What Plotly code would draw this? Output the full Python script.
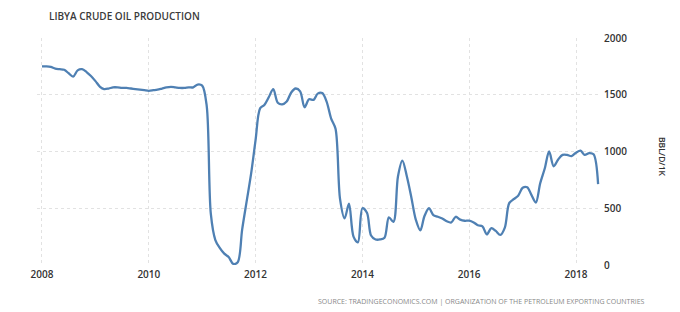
import plotly.graph_objects as go

# Monthly production, Jan 2008 .. Jun 2018 (BBL/D/1K)
values_2008 = [1750, 1750, 1745, 1730, 1725, 1720, 1690, 1660, 1715, 1725, 1700, 1665]
values_2009 = [1620, 1570, 1550, 1555, 1565, 1565, 1560, 1560, 1555, 1550, 1545, 1540]
values_2010 = [1535, 1540, 1545, 1555, 1565, 1570, 1565, 1560, 1560, 1565, 1565, 1590]
values_2011 = [1580, 1400, 450, 220, 150, 100, 70, 10, 25, 310, 560, 800]
values_2012 = [1100, 1380, 1410, 1480, 1550, 1430, 1415, 1440, 1520, 1555, 1530, 1390]
values_2013 = [1460, 1455, 1510, 1515, 1440, 1290, 1200, 580, 410, 540, 250, 200]
values_2014 = [500, 460, 260, 225, 225, 240, 420, 380, 780, 920, 780, 600]
values_2015 = [400, 305, 430, 500, 440, 425, 410, 385, 375, 425, 400, 390]
values_2016 = [390, 375, 350, 340, 270, 325, 300, 265, 330, 545, 580, 610]
values_2017 = [680, 685, 620, 550, 720, 850, 1000, 870, 930, 970, 970, 960]
values_2018 = [990, 1007, 970, 985, 975, 713]

values = (values_2008 + values_2009 + values_2010 + values_2011 + values_2012 + values_2013
          + values_2014 + values_2015 + values_2016 + values_2017 + values_2018)
dates = []
y, m = 2008, 1
for _ in values:
    dates.append(f"{y}-{m:02d}-01")
    m += 1
    if m > 12:
        m = 1
        y += 1

x_ticks = ["2008-01-01", "2010-01-01", "2012-01-01", "2014-01-01", "2016-01-01", "2018-01-01"]
x_tick_text = ["2008", "2010", "2012", "2014", "2016", "2018"]
y_ticks = [0, 500, 1000, 1500, 2000]

title_text = "LIBYA CRUDE OIL PRODUCTION"
unit_text = "BBL/D/1K"
source_text = "SOURCE: TRADINGECONOMICS.COM | ORGANIZATION OF THE PETROLEUM EXPORTING COUNTRIES"

L, R, T, B = 37, 80, 38, 47
W, H = 680, 312
pw, ph = W - L - R, H - T - B


def px(xp):
    return (xp - L) / pw


def py(yp):
    return (H - yp - B) / ph


fig = go.Figure()
fig.add_trace(go.Scatter(
    x=dates, y=values, mode="lines",
    line=dict(color="#4f80b3", width=2.3, shape="spline", smoothing=0.9),
    hoverinfo="skip", showlegend=False,
))

grid = "#e2e2e2"
fig.update_layout(
    width=W, height=H,
    margin=dict(l=L, r=R, t=T, b=B),
    paper_bgcolor="white", plot_bgcolor="white",
    font=dict(family="Open Sans", size=10, color="#333333"),
    xaxis=dict(
        type="date", range=["2007-11-28", "2018-06-14"],
        tickvals=x_ticks, ticktext=x_tick_text,
        showgrid=True, gridcolor=grid, griddash="dot", gridwidth=1,
        zeroline=False, showline=False, ticks="",
        ticklabelstandoff=2,
        tickfont=dict(family="Open Sans", size=10, color="#333333", weight=600),
    ),
    yaxis=dict(
        range=[0, 2000], tickvals=y_ticks, side="right",
        showgrid=True, gridcolor=grid, griddash="dot", gridwidth=1,
        zeroline=False, showline=False, ticks="",
        ticklabelstandoff=3,
        tickfont=dict(family="Open Sans", size=10, color="#333333", weight=600),
    ),
    annotations=[
        dict(text=title_text, x=px(47), y=py(15.5), xref="paper", yref="paper",
             showarrow=False, xanchor="left", yanchor="middle",
             font=dict(family="Open Sans", size=10, color="#3a3a3a", weight=600)),
        dict(text=unit_text, x=px(663), y=py(157), xref="paper", yref="paper", textangle=90,
             showarrow=False, xanchor="center", yanchor="middle",
             font=dict(family="Open Sans", size=8.5, color="#333333", weight=600)),
        dict(text=source_text, x=px(647), y=py(301), xref="paper", yref="paper",
             showarrow=False, xanchor="right", yanchor="middle",
             font=dict(family="Open Sans", size=7, color="#888888")),
    ],
)

fig.write_html("out.html")
